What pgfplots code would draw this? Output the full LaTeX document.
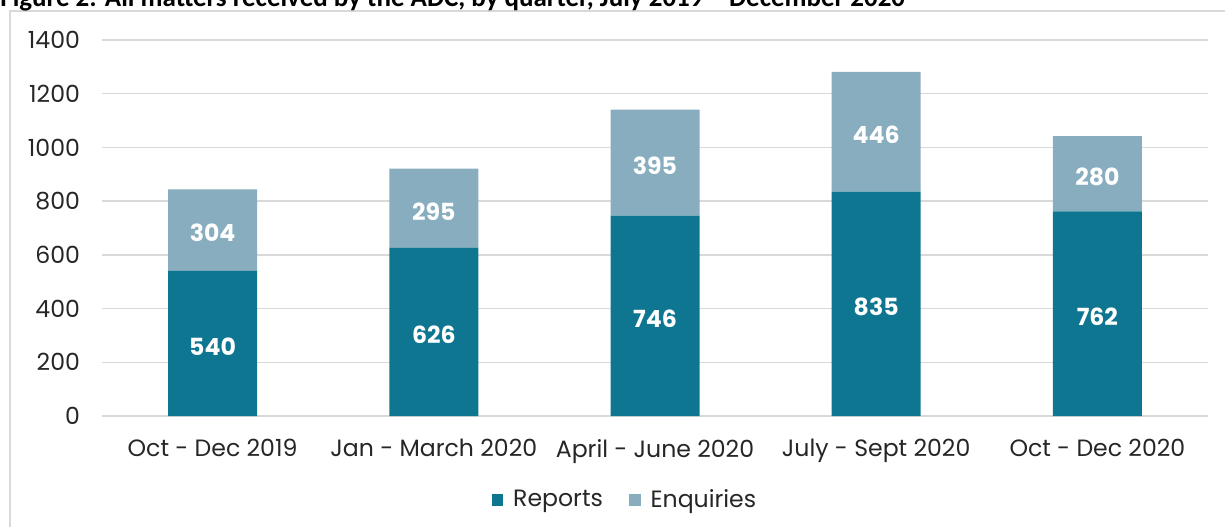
\documentclass[border=0pt]{standalone}
\usepackage{pgfplots}
\pgfplotsset{compat=1.18}
\usepackage{fontspec}
\setmainfont{Poppins}
\newfontfamily\titlefont{Carlito}
\definecolor{rep}{HTML}{0E7690}
\definecolor{enq}{HTML}{87ADBF}
\definecolor{gridc}{HTML}{D9D9D9}
\definecolor{txt}{HTML}{262626}
\begin{document}
\begin{tikzpicture}
\begin{axis}[
  at={(0,0)}, anchor=south west,
  scale only axis, width=553pt, height=188pt,
  xmin=-0.5, xmax=4.5, ymin=0, ymax=1400,
  ybar stacked, bar width=44.5pt,
  xtick={0,...,4},
  xticklabels={Oct - Dec 2019, Jan - March 2020, April - June 2020, July - Sept 2020, Oct - Dec 2020},
  ytick={0,200,...,1400},
  ymajorgrids, grid style={gridc, line width=0.75pt},
  axis line style={draw=none},
  major tick length=0pt,
  tick label style={font=\fontsize{11.8}{13}\selectfont, text=txt},
  yticklabel style={xshift=-7.5pt},
  xticklabel style={yshift=-8pt},
  /pgf/number format/assume math mode=true,
  /pgf/number format/1000 sep={},
  legend image code/.code={\fill[#1] (0pt,-2.9pt) rectangle (5.8pt,2.9pt); \path (8.8pt,0pt);},
  legend style={at={(axis description cs:0.4737,-0.2234)}, anchor=center, draw=none, fill=none,
    legend columns=2, font=\fontsize{11.8}{13}\selectfont, text=txt,
    /tikz/every even column/.append style={column sep=11pt}},
]
\addplot[fill=rep, draw=none] coordinates {(0,540) (1,626) (2,746) (3,835) (4,762)};
\addlegendentry{Reports}
\addplot[fill=enq, draw=none] coordinates {(0,304) (1,295) (2,395) (3,446) (4,280)};
\addlegendentry{Enquiries}
\end{axis}
\begin{axis}[
  at={(0,0)}, anchor=south west,
  scale only axis, width=553pt, height=188pt,
  xmin=-0.5, xmax=4.5, ymin=0, ymax=1400, hide axis,
]
\addplot[draw=none, mark=none, nodes near coords, point meta=explicit symbolic,
  nodes near coords style={anchor=center, yshift=-1.5pt, text=white, font=\fontsize{11.8}{13}\selectfont\bfseries}]
  coordinates {(0,270)[540] (1,313)[626] (2,373)[746] (3,417.5)[835] (4,381)[762]
               (0,692)[304] (1,773.5)[295] (2,943.5)[395] (3,1058)[446] (4,902)[280]};
\end{axis}
\draw[gridc, line width=0.75pt] (-46pt,-80pt) rectangle (600pt,202.5pt);
\node[anchor=base west, inner sep=0pt, font=\titlefont\bfseries\fontsize{13.5}{15}\selectfont, text=black]
  at (-51pt,205pt) {Figure 2: All matters received by the ADC, by quarter, July 2019 – December 2020};
\pgfresetboundingbox
\path[use as bounding box] (-51pt,-55pt) rectangle (561.5pt,208pt);
\end{tikzpicture}
\end{document}
